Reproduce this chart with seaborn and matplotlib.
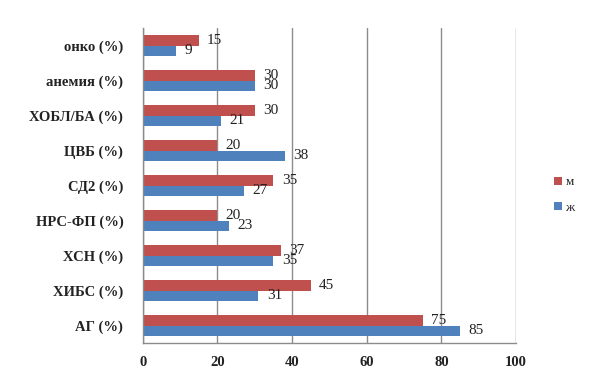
import matplotlib
matplotlib.use("Agg")
import matplotlib.pyplot as plt
import seaborn as sns
import pandas as pd
import numpy as np

categories = ["онко (%)", "анемия (%)", "ХОБЛ/БА (%)", "ЦВБ (%)", "СД2 (%)",
              "НРС-ФП (%)", "ХСН (%)", "ХИБС (%)", "АГ (%)"]
male = [15, 30, 30, 20, 35, 20, 37, 45, 75]     # м
female = [9, 30, 21, 38, 27, 23, 35, 31, 85]    # ж
series = ["м", "ж"]
colors = {"м": "#C0504D", "ж": "#4F81BD"}

df = pd.DataFrame({
    "cat": categories * 2,
    "val": male + female,
    "sex": ["м"] * len(categories) + ["ж"] * len(categories),
})

sns.set_style("white")
plt.rcParams["font.family"] = ["Liberation Serif", "DejaVu Serif"]

fig = plt.figure(figsize=(6, 3.81), dpi=100)
ax = fig.add_axes([0.238, 0.0997, 0.622, 0.8268])

sns.barplot(data=df, y="cat", x="val", hue="sex", order=categories,
            hue_order=series, palette=colors, orient="h", width=0.58,
            saturation=1, ax=ax, edgecolor="none", linewidth=0)

for cont in ax.containers:
    ax.bar_label(cont, padding=6, fontsize=11, color="#222222")

ax.set_xlim(0, 100)
ax.set_ylim(len(categories) - 0.5, -0.5)
ax.set_xticks([0, 20, 40, 60, 80, 100])
ax.set_xlabel("")
ax.set_ylabel("")
ax.grid(axis="x", color="#8c8c8c", linewidth=1)
ax.grid(axis="y", visible=False)
ax.set_axisbelow(True)
for s in ["top", "right"]:
    ax.spines[s].set_visible(False)
for s in ["left", "bottom"]:
    ax.spines[s].set_color("#8c8c8c")
    ax.spines[s].set_linewidth(1)

ax.tick_params(axis="x", length=5, color="#8c8c8c", width=1, labelsize=10.5, pad=4)
ax.tick_params(axis="y", which="major", length=0, labelsize=10.5, pad=14)
ax.set_yticks(np.arange(-0.5, len(categories), 1.0), minor=True)
ax.tick_params(axis="y", which="minor", length=5, color="#8c8c8c", width=1)
for t in ax.get_xticklabels() + ax.get_yticklabels():
    t.set_fontweight("bold")
    t.set_color("#222222")

ax.legend(loc="center left", bbox_to_anchor=(1.07, 0.47), frameon=False,
          fontsize=9.5, handlelength=0.6, handleheight=0.6, handletextpad=0.3,
          labelspacing=1.0)

fig.savefig("out.png", dpi=100, facecolor="white")
